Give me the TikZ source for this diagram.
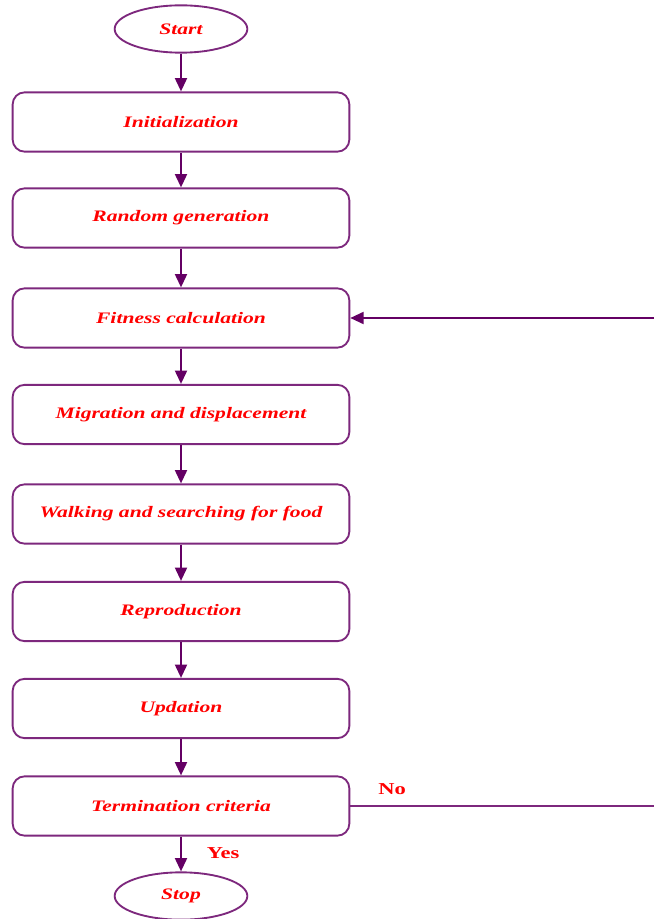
\documentclass[tikz,border=0pt]{standalone}
\usepackage{fontspec}
\setmainfont{Liberation Serif}
\newfontfamily\lblfont[FakeStretch=1.35]{Liberation Serif}
\usetikzlibrary{shapes.geometric,arrows.meta}
\definecolor{boxpurple}{RGB}{125,40,125}
\definecolor{arrpurple}{RGB}{100,0,100}
\definecolor{txtred}{RGB}{255,0,0}
\tikzset{
  procbox/.style={draw=boxpurple, line width=1.4pt, rounded corners=9pt,
    minimum width=252.5pt, minimum height=44.5pt, inner sep=0pt,
    font=\lblfont\fontsize{12}{14}\selectfont\bfseries\itshape, text=txtred},
  term/.style={draw=boxpurple, line width=1.4pt, ellipse,
    minimum width=99.5pt, minimum height=35.5pt, inner sep=0pt,
    font=\lblfont\fontsize{12}{14}\selectfont\bfseries\itshape, text=txtred},
  flow/.style={draw=arrpurple, line width=1.5pt, -{Triangle[width=9pt,length=10pt]}},
  plainline/.style={draw=boxpurple, line width=1.4pt},
  lbl/.style={font=\lblfont\fontsize{12.5}{14}\selectfont\bfseries, text=txtred, inner sep=0pt}
}
\begin{document}
\begin{tikzpicture}[x=0.75pt,y=-0.75pt]
\useasboundingbox (0,0) rectangle (654,919);
\node[term] (start) at (181,29) {Start};
\node[procbox] (init) at (181,122) {Initialization};
\node[procbox] (rand) at (181,218) {Random generation};
\node[procbox] (fit) at (181,318) {Fitness calculation};
\node[procbox] (mig) at (181,414.5) {Migration and displacement};
\node[procbox] (walk) at (181,514) {Walking and searching for food};
\node[procbox] (rep) at (181,611.5) {Reproduction};
\node[procbox] (upd) at (181,708.5) {Updation};
\node[procbox] (termc) at (181,806) {Termination criteria};
\node[term] (stop) at (181,896) {Stop};
\coordinate (fitin) at (654,318);
\coordinate (noout) at (654,806);
\draw[flow] (start) -- (init);
\draw[flow] (init) -- (rand);
\draw[flow] (rand) -- (fit);
\draw[flow] (fit) -- (mig);
\draw[flow] (mig) -- (walk);
\draw[flow] (walk) -- (rep);
\draw[flow] (rep) -- (upd);
\draw[flow] (upd) -- (termc);
\draw[flow] (termc) -- (stop);
\draw[plainline, -{Triangle[width=9pt,length=10pt]}, arrpurple!100] (fitin) -- (fit.east);
\draw[plainline] (termc.east) -- (noout);
\node[lbl] (no) at (392,789) {No};
\node[lbl] (yes) at (223,853) {Yes};
\end{tikzpicture}
\end{document}
